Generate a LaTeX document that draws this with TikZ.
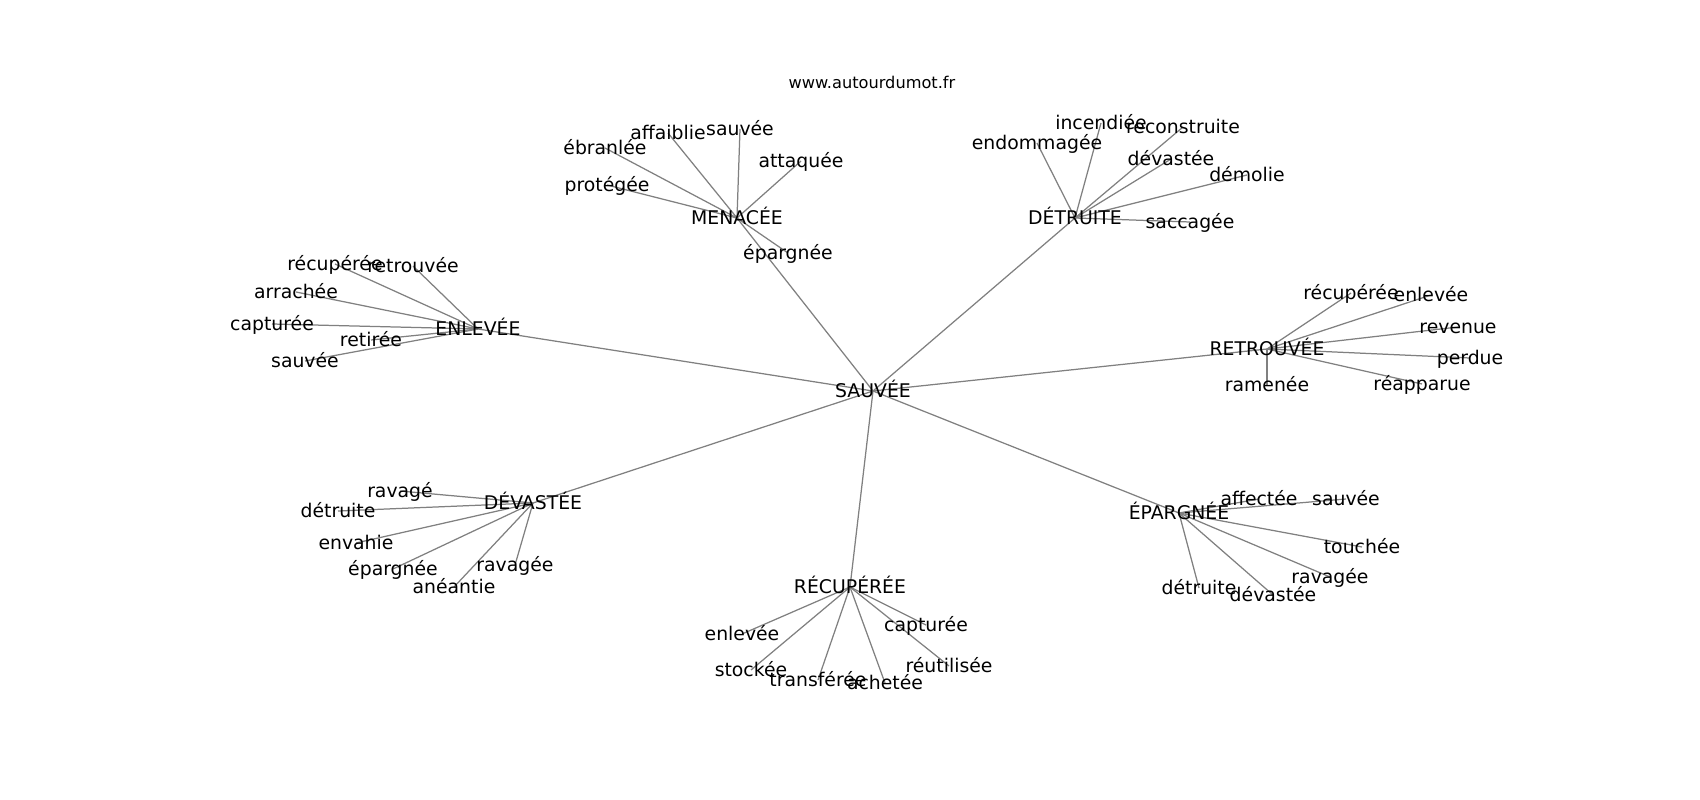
\documentclass[tikz,border=0pt]{standalone}
\usepackage{fontspec}
\setmainfont{DejaVu Sans}
\usetikzlibrary{backgrounds}
\begin{document}
\begin{tikzpicture}[x=0.01in,y=-0.01in,line join=round,line cap=round]
\tikzset{mot/.style={font=\fontsize{13.6}{16}\selectfont,inner sep=0pt,text height=2.2ex,text depth=0.4ex},
  lien/.style={draw=gray,line width=0.9pt}}
\useasboundingbox (0,0) rectangle (1700,800);
\node[font=\fontsize{11.7}{14}\selectfont] (site) at (872,82) {www.autourdumot.fr};
% centre
\node[mot] (sauvee) at (873,391) {SAUVÉE};
% MENACÉE
\node[mot] (menacee) at (737,218) {MENACÉE};
\node[mot] (m-affaiblie) at (668,133) {affaiblie};
\node[mot] (m-sauvee) at (740,129) {sauvée};
\node[mot] (m-ebranlee) at (605,148) {ébranlée};
\node[mot] (m-attaquee) at (801,161) {attaquée};
\node[mot] (m-protegee) at (607,185) {protégée};
\node[mot] (m-epargnee) at (788,253) {épargnée};
% DÉTRUITE
\node[mot] (detruite) at (1075,218) {DÉTRUITE};
\node[mot] (d-incendiee) at (1101,123) {incendiée};
\node[mot] (d-reconstruite) at (1183,127) {reconstruite};
\node[mot] (d-endommagee) at (1037,143) {endommagée};
\node[mot] (d-devastee) at (1171,159) {dévastée};
\node[mot] (d-demolie) at (1247,175) {démolie};
\node[mot] (d-saccagee) at (1190,222) {saccagée};
% ENLEVÉE
\node[mot] (enlevee) at (478,329) {ENLEVÉE};
\node[mot] (e-recuperee) at (335,264) {récupérée};
\node[mot] (e-retrouvee) at (413,266) {retrouvée};
\node[mot] (e-arrachee) at (296,292) {arrachée};
\node[mot] (e-capturee) at (272,324) {capturée};
\node[mot] (e-retiree) at (371,340) {retirée};
\node[mot] (e-sauvee) at (305,361) {sauvée};
% RETROUVÉE
\node[mot] (retrouvee) at (1267,349) {RETROUVÉE};
\node[mot] (r-recuperee) at (1351,293) {récupérée};
\node[mot] (r-enlevee) at (1431,295) {enlevée};
\node[mot] (r-revenue) at (1458,327) {revenue};
\node[mot] (r-perdue) at (1470,358) {perdue};
\node[mot] (r-ramenee) at (1267,385) {ramenée};
\node[mot] (r-reapparue) at (1422,384) {réapparue};
% DÉVASTÉE
\node[mot] (devastee) at (533,503) {DÉVASTÉE};
\node[mot] (v-ravage) at (400,491) {ravagé};
\node[mot] (v-detruite) at (338,511) {détruite};
\node[mot] (v-envahie) at (356,543) {envahie};
\node[mot] (v-epargnee) at (393,569) {épargnée};
\node[mot] (v-aneantie) at (454,587) {anéantie};
\node[mot] (v-ravagee) at (515,565) {ravagée};
% RÉCUPÉRÉE
\node[mot] (recuperee) at (850,587) {RÉCUPÉRÉE};
\node[mot] (c-enlevee) at (742,634) {enlevée};
\node[mot] (c-capturee) at (926,625) {capturée};
\node[mot] (c-stockee) at (751,670) {stockée};
\node[mot] (c-transferee) at (818,680) {transférée};
\node[mot] (c-achetee) at (885,683) {achetée};
\node[mot] (c-reutilisee) at (949,666) {réutilisée};
% ÉPARGNÉE
\node[mot] (epargnee) at (1179,513) {ÉPARGNÉE};
\node[mot] (p-affectee) at (1259,499) {affectée};
\node[mot] (p-sauvee) at (1346,499) {sauvée};
\node[mot] (p-touchee) at (1362,547) {touchée};
\node[mot] (p-ravagee) at (1330,577) {ravagée};
\node[mot] (p-detruite) at (1199,588) {détruite};
\node[mot] (p-devastee) at (1273,595) {dévastée};
% liens
\begin{pgfonlayer}{background}
\foreach \a in {menacee,detruite,enlevee,retrouvee,devastee,recuperee,epargnee}
  \draw[lien] (sauvee.center) -- (\a.center);
\foreach \b in {affaiblie,sauvee,ebranlee,attaquee,protegee,epargnee}
  \draw[lien] (menacee.center) -- (m-\b.center);
\foreach \b in {incendiee,reconstruite,endommagee,devastee,demolie,saccagee}
  \draw[lien] (detruite.center) -- (d-\b.center);
\foreach \b in {recuperee,retrouvee,arrachee,capturee,retiree,sauvee}
  \draw[lien] (enlevee.center) -- (e-\b.center);
\foreach \b in {recuperee,enlevee,revenue,perdue,ramenee,reapparue}
  \draw[lien] (retrouvee.center) -- (r-\b.center);
\foreach \b in {ravage,detruite,envahie,epargnee,aneantie,ravagee}
  \draw[lien] (devastee.center) -- (v-\b.center);
\foreach \b in {enlevee,capturee,stockee,transferee,achetee,reutilisee}
  \draw[lien] (recuperee.center) -- (c-\b.center);
\foreach \b in {affectee,sauvee,touchee,ravagee,detruite,devastee}
  \draw[lien] (epargnee.center) -- (p-\b.center);
\end{pgfonlayer}
\end{tikzpicture}
\end{document}
